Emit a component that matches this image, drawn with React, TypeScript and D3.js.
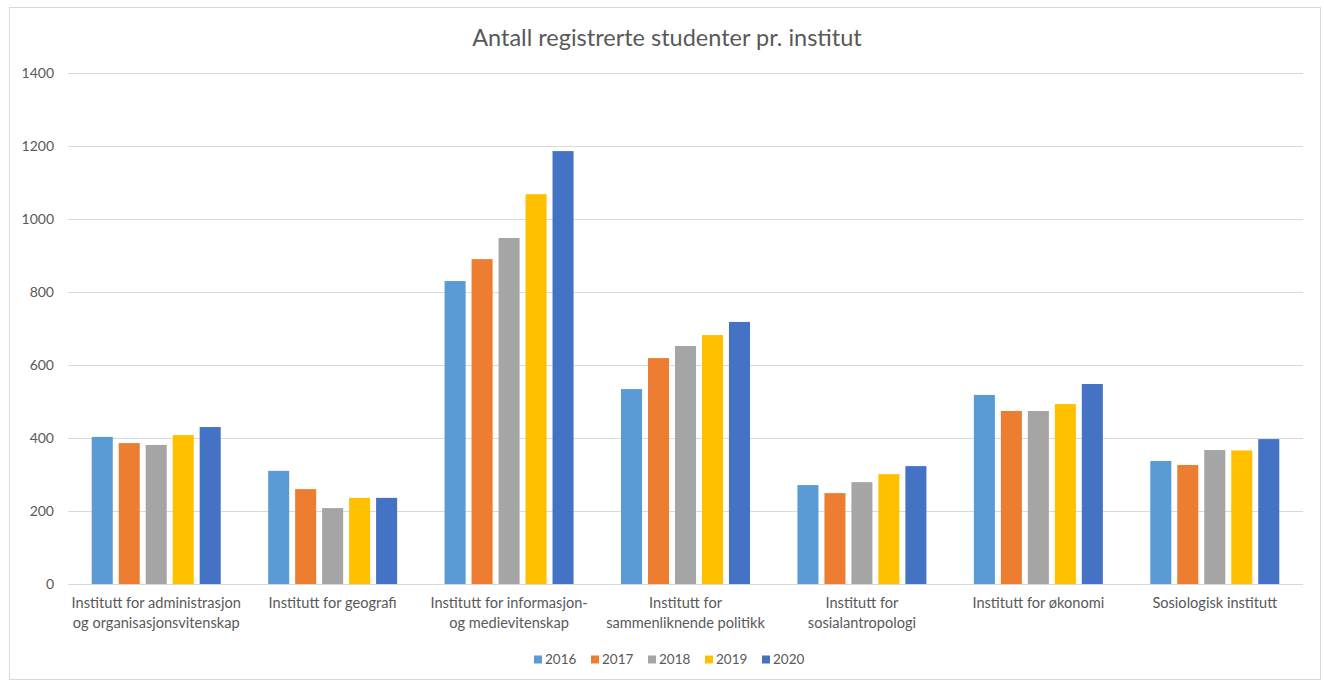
import React from "react";
import * as d3 from "d3";

const categories: string[][] = [
  ["Institutt for administrasjon", "og organisasjonsvitenskap"],
  ["Institutt for geografi"],
  ["Institutt for informasjon-", "og medievitenskap"],
  ["Institutt for", "sammenliknende politikk"],
  ["Institutt for", "sosialantropologi"],
  ["Institutt for økonomi"],
  ["Sosiologisk institutt"],
];
const years = ["2016", "2017", "2018", "2019", "2020"];
const v2016 = [403, 310, 830, 534, 271, 518, 337];
const v2017 = [386, 260, 890, 619, 249, 474, 326];
const v2018 = [381, 208, 948, 652, 279, 474, 367];
const v2019 = [408, 236, 1068, 682, 301, 493, 366];
const v2020 = [430, 236, 1186, 718, 323, 548, 397];
const seriesValues = [v2016, v2017, v2018, v2019, v2020];
const colors = ["#5B9BD5", "#ED7D31", "#A5A5A5", "#FFC000", "#4472C4"];
const yTicks = [0, 200, 400, 600, 800, 1000, 1200, 1400];
const title = "Antall registrerte studenter pr. institut";

const W = 1324;
const H = 680;
const FONT = "Lato, 'Open Sans', sans-serif";
const TEXT = "#595959";

export default function App() {
  const left = 68, right = 1303, top = 73, bottom = 584;
  const y = d3.scaleLinear().domain([0, 1400]).range([bottom, top]);
  const x0 = d3
    .scaleBand<number>()
    .domain(categories.map((_, i) => i))
    .range([left, right])
    .padding(0);
  const cw = x0.bandwidth();
  const groupW = 129;
  const x1 = d3
    .scaleBand<string>()
    .domain(years)
    .range([(cw - groupW) / 2, (cw + groupW) / 2])
    .paddingInner(0.22)
    .paddingOuter(0);

  const legendStep = 57;
  const legendStart = 534;

  return (
    <svg
      width={W}
      height={H}
      style={{ position: "absolute", left: 0, top: 0, background: "#fff" }}
      fontFamily={FONT}
    >
      <rect x={9.5} y={7.5} width={1311} height={672} fill="#fff" stroke="#D9D9D9" strokeWidth={1} />
      <text x={667} y={46} textAnchor="middle" fontSize={23.5} fill={TEXT}>
        {title}
      </text>
      {yTicks.map((t) => (
        <g key={t}>
          <line x1={left} x2={right} y1={y(t) + 0.5} y2={y(t) + 0.5} stroke="#D9D9D9" strokeWidth={1} />
          <text x={54} y={y(t) + 5} textAnchor="end" fontSize={14} fill={TEXT}>
            {t}
          </text>
        </g>
      ))}
      {categories.map((_, ci) =>
        years.map((yr, si) => {
          const v = seriesValues[si][ci];
          return (
            <rect
              key={ci + "-" + yr}
              x={(x0(ci) ?? 0) + (x1(yr) ?? 0)}
              y={y(v)}
              width={x1.bandwidth()}
              height={y(0) - y(v)}
              fill={colors[si]}
            />
          );
        })
      )}
      {categories.map((lines, ci) => (
        <text
          key={"cat" + ci}
          x={(x0(ci) ?? 0) + cw / 2}
          y={608}
          textAnchor="middle"
          fontSize={14.6}
          fill={TEXT}
        >
          {lines.map((l, li) => (
            <tspan key={li} x={(x0(ci) ?? 0) + cw / 2} dy={li === 0 ? 0 : 19.5}>
              {l}
            </tspan>
          ))}
        </text>
      ))}
      {years.map((yr, si) => {
        const lx = legendStart + si * legendStep;
        return (
          <g key={"lg" + yr}>
            <rect x={lx} y={655.5} width={8} height={8} fill={colors[si]} />
            <text x={lx + 11} y={664} fontSize={13.5} fill={TEXT}>
              {yr}
            </text>
          </g>
        );
      })}
    </svg>
  );
}
